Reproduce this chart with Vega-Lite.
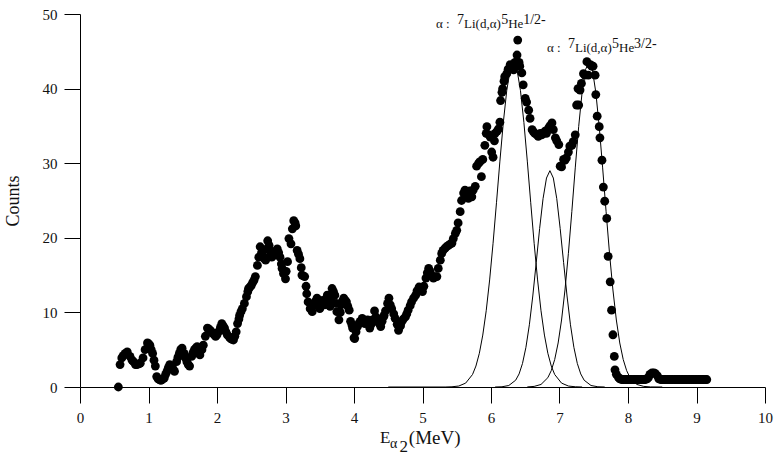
{
"$schema": "https://vega.github.io/schema/vega-lite/v6.json",
"width": 685,
"height": 373,
"autosize": "none",
"padding": {"left": 80, "top": 14, "right": 11, "bottom": 69},
"background": "white",
"config": {"view": {"stroke": null}, "font": "Liberation Serif"},
"datasets": {
"pts": [
{"e":0.56,"c":0},{"e":0.585,"c":3.0},{"e":0.61,"c":3.9},{"e":0.63,"c":4.2},{"e":0.66,"c":4.5},{"e":0.69,"c":4.7},{"e":0.73,"c":4.1},{"e":0.76,"c":3.6},{"e":0.78,"c":3.4},{"e":0.81,"c":3.0},{"e":0.83,"c":3.0},{"e":0.86,"c":3.1},{"e":0.88,"c":3.2},{"e":0.92,"c":3.9},{"e":0.95,"c":5.0},{"e":0.985,"c":5.9},{"e":1.0,"c":5.8},{"e":1.02,"c":5.6},{"e":1.04,"c":5.0},{"e":1.06,"c":4.5},{"e":1.08,"c":3.6},{"e":1.10,"c":2.8},{"e":1.12,"c":1.4},{"e":1.14,"c":1.1},{"e":1.16,"c":1.0},{"e":1.18,"c":0.9},{"e":1.2,"c":1.0},{"e":1.23,"c":1.2},{"e":1.25,"c":1.7},{"e":1.27,"c":2.1},{"e":1.29,"c":2.6},{"e":1.31,"c":3.0},{"e":1.34,"c":2.8},{"e":1.36,"c":2.4},{"e":1.38,"c":2.1},{"e":1.41,"c":3.4},{"e":1.43,"c":4.0},{"e":1.45,"c":4.5},{"e":1.47,"c":5.0},{"e":1.49,"c":5.2},{"e":1.52,"c":4.5},{"e":1.54,"c":3.9},{"e":1.56,"c":3.4},{"e":1.58,"c":3.0},{"e":1.6,"c":2.8},{"e":1.63,"c":4.1},{"e":1.65,"c":4.6},{"e":1.67,"c":5.0},{"e":1.69,"c":5.2},{"e":1.71,"c":5.4},{"e":1.73,"c":4.8},{"e":1.75,"c":4.3},{"e":1.78,"c":5.0},{"e":1.8,"c":5.6},{"e":1.83,"c":6.8},{"e":1.86,"c":7.9},{"e":1.88,"c":7.8},{"e":1.9,"c":7.6},{"e":1.92,"c":7.4},{"e":1.94,"c":7.2},{"e":1.96,"c":7.0},{"e":1.98,"c":6.8},{"e":2.0,"c":7.0},{"e":2.02,"c":7.4},{"e":2.05,"c":8.0},{"e":2.07,"c":8.5},{"e":2.09,"c":8.2},{"e":2.11,"c":7.9},{"e":2.13,"c":7.4},{"e":2.15,"c":7.0},{"e":2.18,"c":6.7},{"e":2.2,"c":6.5},{"e":2.22,"c":6.4},{"e":2.24,"c":6.3},{"e":2.26,"c":6.8},{"e":2.28,"c":7.4},{"e":2.3,"c":8.5},{"e":2.32,"c":9.1},{"e":2.33,"c":9.6},{"e":2.35,"c":10.1},{"e":2.37,"c":10.5},{"e":2.4,"c":11.2},{"e":2.43,"c":12.1},{"e":2.45,"c":12.8},{"e":2.46,"c":13.2},{"e":2.48,"c":13.4},{"e":2.5,"c":13.6},{"e":2.52,"c":14.0},{"e":2.54,"c":14.3},{"e":2.56,"c":14.8},{"e":2.59,"c":16.3},{"e":2.61,"c":17.4},{"e":2.63,"c":18.8},{"e":2.65,"c":18.0},{"e":2.67,"c":17.6},{"e":2.69,"c":17.2},{"e":2.71,"c":17.0},{"e":2.73,"c":18.5},{"e":2.74,"c":19.6},{"e":2.76,"c":19.0},{"e":2.77,"c":18.3},{"e":2.79,"c":17.8},{"e":2.8,"c":17.4},{"e":2.82,"c":17.6},{"e":2.84,"c":17.9},{"e":2.86,"c":18.2},{"e":2.88,"c":18.5},{"e":2.9,"c":18.0},{"e":2.92,"c":17.4},{"e":2.94,"c":16.5},{"e":2.95,"c":15.9},{"e":2.97,"c":15.2},{"e":3.0,"c":14.5},{"e":3.01,"c":15.5},{"e":3.03,"c":16.8},{"e":3.05,"c":19.9},{"e":3.08,"c":19.2},{"e":3.1,"c":21.2},{"e":3.12,"c":22.3},{"e":3.14,"c":22.0},{"e":3.15,"c":21.6},{"e":3.17,"c":18.3},{"e":3.19,"c":17.8},{"e":3.21,"c":17.2},{"e":3.23,"c":16.0},{"e":3.24,"c":15.0},{"e":3.26,"c":14.9},{"e":3.28,"c":14.8},{"e":3.3,"c":13.5},{"e":3.31,"c":12.5},{"e":3.33,"c":11.4},{"e":3.36,"c":10.5},{"e":3.39,"c":10.1},{"e":3.42,"c":11.0},{"e":3.44,"c":11.5},{"e":3.46,"c":11.9},{"e":3.48,"c":11.2},{"e":3.5,"c":10.5},{"e":3.52,"c":11.0},{"e":3.54,"c":11.6},{"e":3.57,"c":11.0},{"e":3.59,"c":11.6},{"e":3.61,"c":12.3},{"e":3.63,"c":11.5},{"e":3.65,"c":10.8},{"e":3.67,"c":12.0},{"e":3.68,"c":13.2},{"e":3.7,"c":12.8},{"e":3.72,"c":12.3},{"e":3.74,"c":11.2},{"e":3.75,"c":10.1},{"e":3.78,"c":9.0},{"e":3.8,"c":10.0},{"e":3.81,"c":11.0},{"e":3.83,"c":11.5},{"e":3.85,"c":11.9},{"e":3.87,"c":11.6},{"e":3.89,"c":11.4},{"e":3.91,"c":10.8},{"e":3.93,"c":10.3},{"e":3.95,"c":8.8},{"e":3.97,"c":8.3},{"e":3.98,"c":7.9},{"e":4.0,"c":6.6},{"e":4.01,"c":6.5},{"e":4.03,"c":7.4},{"e":4.05,"c":8.1},{"e":4.07,"c":8.5},{"e":4.09,"c":8.8},{"e":4.11,"c":8.6},{"e":4.12,"c":9.2},{"e":4.14,"c":8.8},{"e":4.16,"c":8.5},{"e":4.18,"c":8.8},{"e":4.2,"c":9.0},{"e":4.23,"c":7.9},{"e":4.25,"c":8.4},{"e":4.27,"c":9.0},{"e":4.3,"c":10.2},{"e":4.32,"c":9.4},{"e":4.34,"c":8.8},{"e":4.37,"c":8.5},{"e":4.39,"c":8.1},{"e":4.41,"c":8.8},{"e":4.43,"c":9.4},{"e":4.44,"c":9.6},{"e":4.46,"c":10.2},{"e":4.49,"c":11.2},{"e":4.51,"c":11.9},{"e":4.53,"c":11.0},{"e":4.55,"c":10.5},{"e":4.58,"c":9.8},{"e":4.6,"c":9.2},{"e":4.63,"c":8.4},{"e":4.65,"c":7.6},{"e":4.68,"c":8.2},{"e":4.7,"c":8.8},{"e":4.72,"c":9.1},{"e":4.75,"c":9.4},{"e":4.77,"c":9.8},{"e":4.79,"c":10.3},{"e":4.82,"c":10.9},{"e":4.84,"c":11.4},{"e":4.87,"c":11.9},{"e":4.9,"c":12.3},{"e":4.92,"c":12.9},{"e":4.95,"c":13.4},{"e":4.97,"c":13.1},{"e":5.0,"c":12.8},{"e":5.02,"c":13.5},{"e":5.05,"c":14.6},{"e":5.07,"c":15.3},{"e":5.09,"c":15.9},{"e":5.11,"c":15.5},{"e":5.13,"c":15.0},{"e":5.16,"c":14.6},{"e":5.19,"c":14.8},{"e":5.21,"c":14.8},{"e":5.23,"c":15.9},{"e":5.26,"c":17.0},{"e":5.28,"c":17.9},{"e":5.3,"c":18.3},{"e":5.33,"c":18.6},{"e":5.35,"c":18.8},{"e":5.38,"c":19.0},{"e":5.41,"c":19.2},{"e":5.43,"c":19.3},{"e":5.45,"c":19.9},{"e":5.48,"c":20.6},{"e":5.5,"c":21.0},{"e":5.52,"c":22.0},{"e":5.55,"c":23.5},{"e":5.57,"c":25.0},{"e":5.6,"c":26.0},{"e":5.62,"c":26.4},{"e":5.65,"c":25.8},{"e":5.67,"c":25.3},{"e":5.69,"c":26.3},{"e":5.72,"c":25.5},{"e":5.74,"c":26.4},{"e":5.77,"c":26.9},{"e":5.79,"c":29.6},{"e":5.82,"c":30.0},{"e":5.84,"c":30.2},{"e":5.86,"c":28.2},{"e":5.88,"c":30.5},{"e":5.91,"c":32.4},{"e":5.93,"c":34.0},{"e":5.94,"c":34.9},{"e":5.97,"c":33.8},{"e":5.99,"c":33.5},{"e":6.01,"c":31.5},{"e":6.03,"c":30.8},{"e":6.05,"c":33.0},{"e":6.06,"c":34.0},{"e":6.09,"c":34.3},{"e":6.11,"c":34.6},{"e":6.13,"c":35.5},{"e":6.14,"c":38.4},{"e":6.16,"c":39.5},{"e":6.17,"c":40.0},{"e":6.19,"c":41.0},{"e":6.2,"c":41.6},{"e":6.23,"c":42.0},{"e":6.25,"c":42.6},{"e":6.28,"c":43.2},{"e":6.3,"c":42.8},{"e":6.33,"c":42.5},{"e":6.35,"c":43.5},{"e":6.38,"c":44.5},{"e":6.39,"c":46.5},{"e":6.41,"c":43.5},{"e":6.42,"c":43.0},{"e":6.45,"c":42.1},{"e":6.47,"c":40.5},{"e":6.5,"c":38.7},{"e":6.52,"c":38.2},{"e":6.55,"c":37.1},{"e":6.57,"c":36.0},{"e":6.6,"c":34.5},{"e":6.62,"c":34.2},{"e":6.64,"c":34.0},{"e":6.67,"c":33.8},{"e":6.69,"c":33.6},{"e":6.72,"c":34.0},{"e":6.74,"c":33.8},{"e":6.77,"c":34.0},{"e":6.79,"c":34.3},{"e":6.81,"c":34.0},{"e":6.84,"c":34.7},{"e":6.86,"c":35.0},{"e":6.89,"c":35.4},{"e":6.91,"c":34.5},{"e":6.94,"c":33.4},{"e":6.96,"c":33.0},{"e":6.99,"c":32.5},{"e":7.01,"c":29.6},{"e":7.03,"c":29.5},{"e":7.06,"c":30.5},{"e":7.08,"c":30.4},{"e":7.1,"c":30.7},{"e":7.13,"c":31.5},{"e":7.15,"c":32.3},{"e":7.18,"c":32.4},{"e":7.2,"c":32.9},{"e":7.23,"c":33.8},{"e":7.25,"c":37.8},{"e":7.27,"c":40.0},{"e":7.28,"c":37.8},{"e":7.3,"c":39.8},{"e":7.32,"c":40.7},{"e":7.35,"c":42.0},{"e":7.37,"c":41.8},{"e":7.4,"c":43.6},{"e":7.42,"c":41.8},{"e":7.45,"c":43.2},{"e":7.47,"c":43.0},{"e":7.49,"c":43.0},{"e":7.52,"c":41.8},{"e":7.53,"c":39.2},{"e":7.55,"c":36.3},{"e":7.58,"c":34.9},{"e":7.59,"c":33.4},{"e":7.62,"c":30.4},{"e":7.64,"c":26.8},{"e":7.66,"c":24.9},{"e":7.69,"c":22.6},{"e":7.71,"c":17.5},{"e":7.74,"c":14.1},{"e":7.76,"c":10.3},{"e":7.78,"c":7.0},{"e":7.8,"c":4.1},{"e":7.81,"c":2.3},{"e":7.83,"c":1.7},{"e":7.86,"c":1.3},{"e":7.88,"c":1.1},{"e":7.91,"c":1.0},{"e":7.93,"c":1.0},{"e":7.96,"c":1.0},{"e":7.98,"c":1.0},{"e":8.0,"c":1.0},{"e":8.03,"c":1.0},{"e":8.05,"c":1.0},{"e":8.08,"c":1.0},{"e":8.1,"c":1.0},{"e":8.13,"c":1.0},{"e":8.15,"c":1.0},{"e":8.18,"c":1.0},{"e":8.2,"c":1.0},{"e":8.23,"c":1.0},{"e":8.25,"c":1.0},{"e":8.28,"c":1.1},{"e":8.3,"c":1.3},{"e":8.32,"c":1.7},{"e":8.35,"c":1.9},{"e":8.38,"c":1.9},{"e":8.4,"c":1.8},{"e":8.43,"c":1.5},{"e":8.45,"c":1.1},{"e":8.48,"c":1.0},{"e":8.5,"c":1.0},{"e":8.53,"c":1.0},{"e":8.55,"c":1.0},{"e":8.58,"c":1.0},{"e":8.6,"c":1.0},{"e":8.63,"c":1.0},{"e":8.65,"c":1.0},{"e":8.68,"c":1.0},{"e":8.7,"c":1.0},{"e":8.73,"c":1.0},{"e":8.75,"c":1.0},{"e":8.78,"c":1.0},{"e":8.8,"c":1.0},{"e":8.83,"c":1.0},{"e":8.85,"c":1.0},{"e":8.88,"c":1.0},{"e":8.9,"c":1.0},{"e":8.93,"c":1.0},{"e":8.95,"c":1.0},{"e":8.98,"c":1.0},{"e":9.0,"c":1.0},{"e":9.03,"c":1.0},{"e":9.05,"c":1.0},{"e":9.08,"c":1.0},{"e":9.1,"c":1.0},{"e":9.13,"c":1.0},{"e":9.15,"c":1.0}
],
"fit": [
{"peak":"1","e":4.5,"c":0},{"peak":"1","e":5.33,"c":0},{"peak":"1","e":5.43,"c":0.03},{"peak":"1","e":5.53,"c":0.13},{"peak":"1","e":5.63,"c":0.52},{"peak":"1","e":5.73,"c":1.67},{"peak":"1","e":5.78,"c":2.81},{"peak":"1","e":5.83,"c":4.52},{"peak":"1","e":5.88,"c":6.96},{"peak":"1","e":5.93,"c":10.22},{"peak":"1","e":5.98,"c":14.35},{"peak":"1","e":6.03,"c":19.26},{"peak":"1","e":6.08,"c":24.7},{"peak":"1","e":6.13,"c":30.28},{"peak":"1","e":6.18,"c":35.48},{"peak":"1","e":6.23,"c":39.74},{"peak":"1","e":6.28,"c":42.53},{"peak":"1","e":6.33,"c":43.5},{"peak":"1","e":6.38,"c":42.53},{"peak":"1","e":6.43,"c":39.74},{"peak":"1","e":6.48,"c":35.48},{"peak":"1","e":6.53,"c":30.28},{"peak":"1","e":6.58,"c":24.7},{"peak":"1","e":6.63,"c":19.26},{"peak":"1","e":6.68,"c":14.35},{"peak":"1","e":6.73,"c":10.22},{"peak":"1","e":6.78,"c":6.96},{"peak":"1","e":6.83,"c":4.52},{"peak":"1","e":6.88,"c":2.81},{"peak":"1","e":6.93,"c":1.67},{"peak":"1","e":7.03,"c":0.52},{"peak":"1","e":7.13,"c":0.13},{"peak":"1","e":7.23,"c":0.03},{"peak":"1","e":7.33,"c":0},
{"peak":"2","e":6.06,"c":0},{"peak":"2","e":6.16,"c":0.03},{"peak":"2","e":6.26,"c":0.2},{"peak":"2","e":6.36,"c":0.91},{"peak":"2","e":6.41,"c":1.75},{"peak":"2","e":6.46,"c":3.16},{"peak":"2","e":6.51,"c":5.32},{"peak":"2","e":6.56,"c":8.34},{"peak":"2","e":6.61,"c":12.2},{"peak":"2","e":6.66,"c":16.67},{"peak":"2","e":6.71,"c":21.24},{"peak":"2","e":6.76,"c":25.25},{"peak":"2","e":6.81,"c":28.01},{"peak":"2","e":6.86,"c":29.0},{"peak":"2","e":6.91,"c":28.01},{"peak":"2","e":6.96,"c":25.25},{"peak":"2","e":7.01,"c":21.24},{"peak":"2","e":7.06,"c":16.67},{"peak":"2","e":7.11,"c":12.2},{"peak":"2","e":7.16,"c":8.34},{"peak":"2","e":7.21,"c":5.32},{"peak":"2","e":7.26,"c":3.16},{"peak":"2","e":7.31,"c":1.75},{"peak":"2","e":7.36,"c":0.91},{"peak":"2","e":7.46,"c":0.2},{"peak":"2","e":7.56,"c":0.03},{"peak":"2","e":7.66,"c":0},
{"peak":"3","e":6.53,"c":0.01},{"peak":"3","e":6.63,"c":0.08},{"peak":"3","e":6.73,"c":0.34},{"peak":"3","e":6.83,"c":1.25},{"peak":"3","e":6.88,"c":2.2},{"peak":"3","e":6.93,"c":3.69},{"peak":"3","e":6.98,"c":5.9},{"peak":"3","e":7.03,"c":8.98},{"peak":"3","e":7.08,"c":13.0},{"peak":"3","e":7.13,"c":17.92},{"peak":"3","e":7.18,"c":23.52},{"peak":"3","e":7.23,"c":29.37},{"peak":"3","e":7.28,"c":34.91},{"peak":"3","e":7.33,"c":39.5},{"peak":"3","e":7.38,"c":42.54},{"peak":"3","e":7.43,"c":43.6},{"peak":"3","e":7.48,"c":42.54},{"peak":"3","e":7.53,"c":39.5},{"peak":"3","e":7.58,"c":34.91},{"peak":"3","e":7.63,"c":29.37},{"peak":"3","e":7.68,"c":23.52},{"peak":"3","e":7.73,"c":17.92},{"peak":"3","e":7.78,"c":13.0},{"peak":"3","e":7.83,"c":8.98},{"peak":"3","e":7.88,"c":5.9},{"peak":"3","e":7.93,"c":3.69},{"peak":"3","e":7.98,"c":2.2},{"peak":"3","e":8.03,"c":1.25},{"peak":"3","e":8.13,"c":0.34},{"peak":"3","e":8.23,"c":0.08},{"peak":"3","e":8.33,"c":0.01},{"peak":"3","e":8.5,"c":0}
],
"labBase": [
{"e":5.197,"c":48.1,"t":"α :"},{"e":5.606,"c":48.1,"t":"Li(d,α)"},{"e":6.25,"c":48.1,"t":"He"},
{"e":6.818,"c":44.9,"t":"α :"},{"e":7.226,"c":44.9,"t":"Li(d,α)"},{"e":7.87,"c":44.9,"t":"He"}
],
"labSup": [
{"e":5.504,"c":48.1,"t":"7"},{"e":6.148,"c":48.1,"t":"5"},{"e":6.469,"c":48.1,"t":"1/2-"},
{"e":7.124,"c":44.9,"t":"7"},{"e":7.768,"c":44.9,"t":"5"},{"e":8.089,"c":44.9,"t":"3/2-"}
],
"titleMain": [
{"e":4.38,"c":-7.46,"t":"E"}
],
"titleMeV": [{"e":4.8,"c":-7.6,"t":"(MeV)"}],
"titleSubA": [{"e":4.526,"c":-8.13,"t":"α"}],
"titleSub2": [{"e":4.665,"c":-8.75,"t":"2"}]
},
"layer": [
{
"data": {"name": "pts"},
"mark": {"type": "point", "filled": true, "color": "black", "opacity": 1, "size": 78, "shape": "circle"},
"encoding": {
"x": {"field": "e", "type": "quantitative", "scale": {"domain": [0, 10], "nice": false, "zero": false},
"axis": {"title": null, "grid": false, "values": [0,0.5,1,1.5,2,2.5,3,3.5,4,4.5,5,5.5,6,6.5,7,7.5,8,8.5,9,9.5,10],
"labelExpr": "datum.value % 1 === 0 ? format(datum.value, 'd') : ''",
"tickSize": {"condition": {"test": "datum.value % 1 === 0", "value": 16}, "value": 8},
"domainColor": "black", "tickColor": "black", "labelColor": "#111", "labelFont": "Liberation Serif", "labelFontSize": 15, "labelPadding": 7, "labelFlush": false, "labelOverlap": false}},
"y": {"field": "c", "type": "quantitative", "scale": {"domain": [0, 50], "nice": false},
"axis": {"title": "Counts", "grid": false, "values": [0,5,10,15,20,25,30,35,40,45,50],
"labelExpr": "datum.value % 10 === 0 ? format(datum.value, 'd') : ''",
"tickSize": {"condition": {"test": "datum.value % 10 === 0", "value": 16}, "value": 8},
"domainColor": "black", "tickColor": "black", "labelColor": "#111", "labelFont": "Liberation Serif", "labelFontSize": 15, "labelPadding": 7, "labelFlush": false, "labelOverlap": false,
"titleFont": "Liberation Serif", "titleFontSize": 18, "titleFontWeight": "normal", "titleColor": "#111", "titlePadding": 20}}
}
},
{
"data": {"name": "fit"},
"mark": {"type": "line", "color": "black", "strokeWidth": 1},
"encoding": {
"x": {"field": "e", "type": "quantitative"},
"y": {"field": "c", "type": "quantitative"},
"detail": {"field": "peak"}
}
},
{
"data": {"name": "labBase"},
"mark": {"type": "text", "align": "left", "baseline": "alphabetic", "fontSize": 13, "font": "Liberation Serif", "color": "#111"},
"encoding": {"x": {"field": "e", "type": "quantitative"}, "y": {"field": "c", "type": "quantitative"}, "text": {"field": "t"}}
},
{
"data": {"name": "labSup"},
"mark": {"type": "text", "align": "left", "baseline": "alphabetic", "fontSize": 14, "dy": -4, "font": "Liberation Serif", "color": "#111"},
"encoding": {"x": {"field": "e", "type": "quantitative"}, "y": {"field": "c", "type": "quantitative"}, "text": {"field": "t"}}
},
{
"data": {"name": "titleMain"},
"mark": {"type": "text", "align": "left", "baseline": "alphabetic", "fontSize": 17, "font": "Liberation Serif", "color": "#111"},
"encoding": {"x": {"field": "e", "type": "quantitative"}, "y": {"field": "c", "type": "quantitative"}, "text": {"field": "t"}}
},
{
"data": {"name": "titleMeV"},
"mark": {"type": "text", "align": "left", "baseline": "alphabetic", "fontSize": 19, "font": "Liberation Serif", "color": "#111"},
"encoding": {"x": {"field": "e", "type": "quantitative"}, "y": {"field": "c", "type": "quantitative"}, "text": {"field": "t"}}
},
{
"data": {"name": "titleSubA"},
"mark": {"type": "text", "align": "left", "baseline": "alphabetic", "fontSize": 14, "font": "Liberation Serif", "color": "#111"},
"encoding": {"x": {"field": "e", "type": "quantitative"}, "y": {"field": "c", "type": "quantitative"}, "text": {"field": "t"}}
},
{
"data": {"name": "titleSub2"},
"mark": {"type": "text", "align": "left", "baseline": "alphabetic", "fontSize": 17, "font": "Liberation Serif", "color": "#111"},
"encoding": {"x": {"field": "e", "type": "quantitative"}, "y": {"field": "c", "type": "quantitative"}, "text": {"field": "t"}}
}
]
}
